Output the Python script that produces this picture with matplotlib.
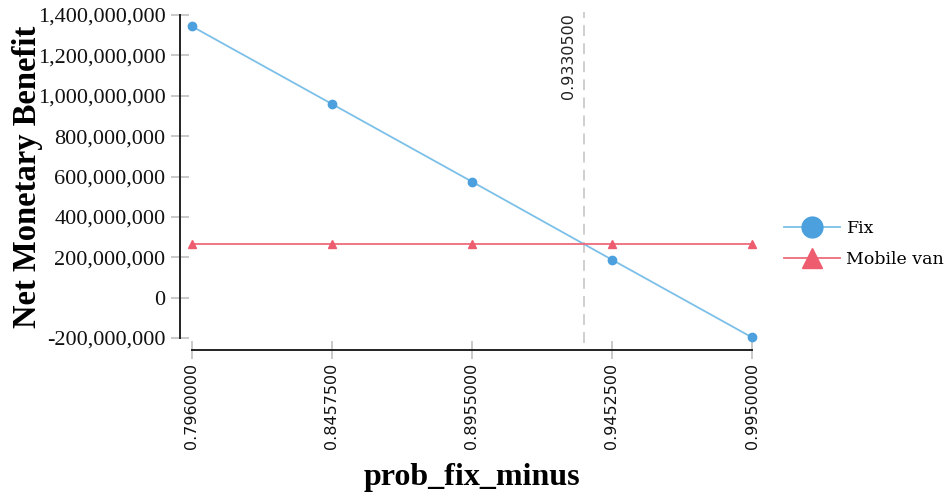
import matplotlib
matplotlib.use("Agg")
import matplotlib.pyplot as plt
import numpy as np
from matplotlib.lines import Line2D
from matplotlib.ticker import FuncFormatter

# ---- data ----
x_values = [0.7960, 0.84575, 0.8955, 0.94525, 0.9950]
x_tick_labels = ["0.7960000", "0.8457500", "0.8955000", "0.9452500", "0.9950000"]
fix_values = [1.345e9, 0.960e9, 0.575e9, 0.188e9, -0.197e9]
mobile_van_values = [2.65e8, 2.65e8, 2.65e8, 2.65e8, 2.65e8]
threshold_label = "0.9330500"
y_ticks = [-2e8, 0, 2e8, 4e8, 6e8, 8e8, 1e9, 1.2e9, 1.4e9]
series_names = ["Fix", "Mobile van"]

# intersection of the two lines (where the reference line is drawn)
xs = np.array(x_values)
diff = np.array(fix_values) - np.array(mobile_van_values)
i = np.where(np.sign(diff[:-1]) != np.sign(diff[1:]))[0][0]
threshold_x = xs[i] + (xs[i + 1] - xs[i]) * diff[i] / (diff[i] - diff[i + 1])

blue_line = "#7cc0e8"
blue_mark = "#4ba0dd"
red_line = "#ee6b7b"
red_mark = "#ee5c70"

fig = plt.figure(figsize=(9.48, 5.0), dpi=100)
ax = fig.add_axes([191.5 / 948, 1 - 338 / 500, (752 - 191.5) / 948, (338 - 15) / 500])

ax.plot(x_values, fix_values, color=blue_line, lw=1.3, zorder=3, clip_on=False)
ax.plot(x_values, fix_values, 'o', color=blue_mark, ms=6, zorder=4, clip_on=False)
ax.plot(x_values, mobile_van_values, color=red_line, lw=1.3, zorder=3, clip_on=False)
ax.plot(x_values, mobile_van_values, '^', color=red_mark, ms=6, zorder=4, clip_on=False)

ax.axvline(threshold_x, ymin=-0.015, ymax=1.01, color="#cccccc", lw=1.3,
           dashes=(6, 4), zorder=2, clip_on=False)
ax.text(threshold_x - 0.0028, 1.4e9 + 0.01e9, threshold_label, rotation=90,
        ha="right", va="top", fontsize=11.5, family="DejaVu Sans", color="#222222")

ax.set_xlim(x_values[0], x_values[-1])
ax.set_ylim(-2e8, 1.4e9)

for s in ["top", "right"]:
    ax.spines[s].set_visible(False)
ax.spines["left"].set_position(("outward", 8.3))
ax.spines["bottom"].set_position(("outward", 8.6))
ax.spines["left"].set_bounds(-2e8, 1.4e9)
ax.spines["bottom"].set_bounds(x_values[0], x_values[-1])
for s in ["left", "bottom"]:
    ax.spines[s].set_linewidth(1.4)
    ax.spines[s].set_color("#222222")

ax.set_yticks(y_ticks)
ax.yaxis.set_major_formatter(FuncFormatter(lambda v, p: f"{int(round(v)):,}"))
ax.set_xticks(x_values)
ax.set_xticklabels(x_tick_labels, rotation=90, family="DejaVu Sans", fontsize=11.5)
for lab in ax.get_yticklabels():
    lab.set_family("Liberation Serif")
    lab.set_fontsize(16)
ax.tick_params(axis="both", direction="inout", length=13, width=1.2, color="#c0c0c0",
               labelcolor="#111111")
ax.tick_params(axis="y", pad=4)
ax.tick_params(axis="x", pad=3)

ax.set_ylabel("Net Monetary Benefit", family="Liberation Serif", fontweight="bold",
              fontsize=23.5)
ax.yaxis.set_label_coords(-0.265, 0.5)
ax.set_xlabel("prob_fix_minus", family="Liberation Serif", fontweight="bold",
              fontsize=23, labelpad=10)

handles = [
    Line2D([0], [0], color=blue_line, lw=1.3, marker='o', ms=15,
           markerfacecolor=blue_mark, markeredgecolor=blue_mark),
    Line2D([0], [0], color=red_line, lw=1.3, marker='^', ms=15,
           markerfacecolor=red_mark, markeredgecolor=red_mark),
]
fig.legend(handles, series_names, loc="center left", bbox_to_anchor=(784 / 948, 1 - 244 / 500),
           frameon=False, prop={"family": "DejaVu Serif", "size": 12.5},
           handlelength=3.2, handletextpad=0.4, labelspacing=0.8, borderaxespad=0,
           borderpad=0)

fig.savefig("out.png", dpi=100)
